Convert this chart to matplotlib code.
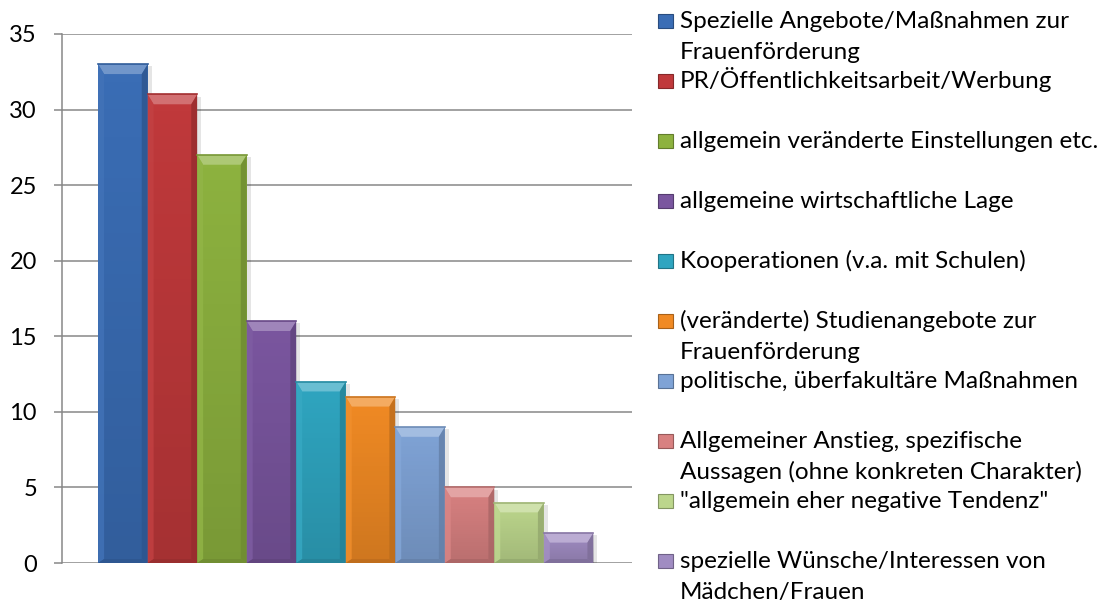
import numpy as np
import matplotlib.pyplot as plt
from matplotlib.patches import Polygon, Rectangle
from matplotlib.colors import to_rgb

labels = [
    "Spezielle Angebote/Maßnahmen zur\nFrauenförderung",
    "PR/Öffentlichkeitsarbeit/Werbung",
    "allgemein veränderte Einstellungen etc.",
    "allgemeine wirtschaftliche Lage",
    "Kooperationen (v.a. mit Schulen)",
    "(veränderte) Studienangebote zur\nFrauenförderung",
    "politische, überfakultäre Maßnahmen",
    "Allgemeiner Anstieg, spezifische\nAussagen (ohne konkreten Charakter)",
    "\"allgemein eher negative Tendenz\"",
    "spezielle Wünsche/Interessen von\nMädchen/Frauen",
]
values = [33, 31, 27, 16, 12, 11, 9, 5, 4, 2]
colors = ["#3a6db5", "#c0393b", "#8db23f", "#7a569f", "#2fa5c0",
          "#f08a24", "#7fa3d6", "#d88181", "#bcd68c", "#a08cc2"]
yticks = [0, 5, 10, 15, 20, 25, 30, 35]

plt.rcParams['font.family'] = ['Lato', 'DejaVu Sans']

W, H = 1113, 601
fig = plt.figure(figsize=(W / 100, H / 100), dpi=100)
ax = fig.add_axes([62 / W, 38 / H, 570 / W, 529 / H])

x = np.arange(len(values))
ax.set_xlim(-1.23, 10.28)
ax.set_ylim(0, 35)

# soft shadow
for xi, v in zip(x, values):
    ax.add_patch(Rectangle((xi - 0.5 + 0.08, 0), 1, v - 0.15, color="#000000",
                           alpha=0.10, lw=0, zorder=2))

bars = ax.bar(x, values, width=1.0, color=colors, edgecolor="none", zorder=3)

# slight darkening towards the bottom of each bar
grad = np.zeros((64, 1, 4))
grad[:, 0, 3] = np.linspace(0.14, 0.0, 64)
for b in bars:
    im = ax.imshow(grad, extent=(b.get_x(), b.get_x() + b.get_width(), 0,
                                 b.get_height()),
                   origin="lower", aspect="auto", zorder=3.5,
                   interpolation="bilinear")
    im.set_clip_path(b)


def shade(c, f):
    r, g, b = to_rgb(c)
    if f > 0:
        return (r + (1 - r) * f, g + (1 - g) * f, b + (1 - b) * f)
    return (r * (1 + f), g * (1 + f), b * (1 + f))


# bevel facets
bx = 0.12   # horizontal bevel in data units
by = 0.65   # vertical bevel in data units
for xi, v, c in zip(x, values, colors):
    l, r = xi - 0.5, xi + 0.5
    top = [(l, v), (r, v), (r - bx, v - by), (l + bx, v - by)]
    left = [(l, 0), (l, v), (l + bx, v - by), (l + bx, by * 0.4)]
    right = [(r, 0), (r, v), (r - bx, v - by), (r - bx, by * 0.4)]
    bottom = [(l, 0), (r, 0), (r - bx, by * 0.4), (l + bx, by * 0.4)]
    ax.add_patch(Polygon(top, closed=True, color=shade(c, 0.28), lw=0, zorder=4))
    ax.add_patch(Polygon(left, closed=True, color=shade(c, 0.04), alpha=0.8,
                         lw=0, zorder=4))
    ax.add_patch(Polygon(right, closed=True, color=shade(c, -0.22), alpha=0.8,
                         lw=0, zorder=4))
    ax.add_patch(Polygon(bottom, closed=True, color=shade(c, -0.2), lw=0, zorder=4))
    ax.plot([l, r], [v, v], color=shade(c, -0.15), lw=1.2, zorder=5)

ax.set_yticks(yticks)
ax.set_xticks([])
ax.grid(axis="y", color="#878787", lw=1.1, zorder=1)
for s in ["top", "right", "bottom"]:
    ax.spines[s].set_visible(False)
ax.spines["left"].set_color("#878787")
ax.spines["left"].set_linewidth(1.1)
ax.tick_params(axis="y", length=6, color="#878787", width=1.1, pad=12,
               labelsize=17, labelcolor="#000000")

# legend drawn manually with uniform slot spacing
slot = 60.0
base0 = 28
line_h = 31
for i, (lab, c) in enumerate(zip(labels, colors)):
    yb = base0 + slot * i
    fig.patches.append(Rectangle((658 / W, 1 - yb / H), 15 / W, 14 / H,
                                 transform=fig.transFigure, facecolor=c,
                                 edgecolor=shade(c, -0.3), lw=0.8))
    for j, line in enumerate(lab.split("\n")):
        fig.text(680 / W, 1 - (yb + j * line_h) / H, line, fontsize=17.5,
                 va="baseline", ha="left")

fig.savefig("out.png", dpi=100)
